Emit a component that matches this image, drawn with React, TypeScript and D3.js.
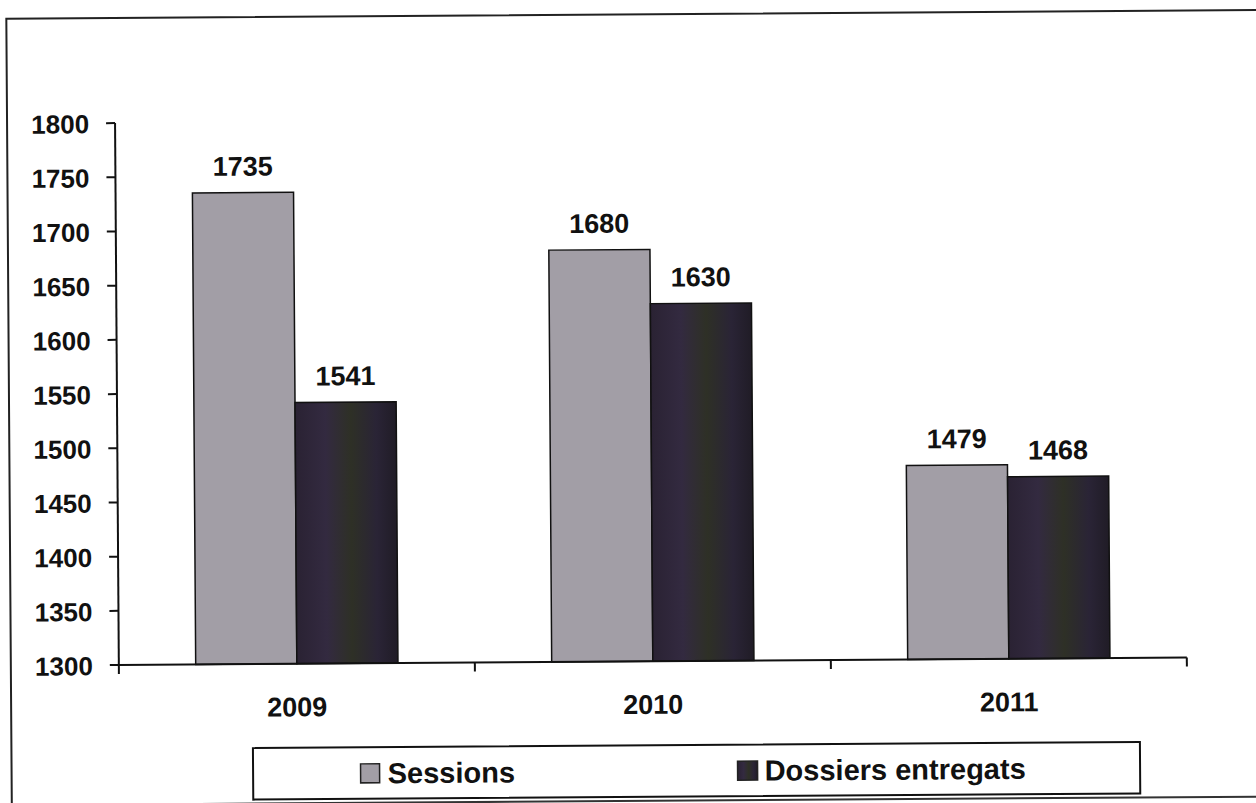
import React from "react";
import * as d3 from "d3";

const years = ["2009", "2010", "2011"];
const seriesNames = ["Sessions", "Dossiers entregats"];
const sessions = [1735, 1680, 1479];
const dossiers = [1541, 1630, 1468];
const yTicks = [1300, 1350, 1400, 1450, 1500, 1550, 1600, 1650, 1700, 1750, 1800];
const seriesColors = ["#a29ea6", "url(#darkGrad)"];

const W = 1256;
const H = 803;
const FONT = "Liberation Sans, Arial, sans-serif";

export default function App() {
  const plotLeft = 117;
  const plotRight = 1185;
  const plotTop = 119.5;
  const plotBottom = 661.5;

  const y = d3.scaleLinear().domain([1300, 1800]).range([plotBottom, plotTop]);
  const x = d3.scaleBand<string>().domain(years).range([plotLeft, plotRight]).padding(0);
  const xs = d3
    .scaleBand<string>()
    .domain(seriesNames)
    .range([0, x.bandwidth()])
    .paddingInner(0)
    .paddingOuter(0.76);

  const data = [sessions, dossiers];
  const catBounds = [plotLeft, ...years.map((yr) => (x(yr) as number) + x.bandwidth())];

  return (
    <svg
      width={W}
      height={H}
      style={{ position: "absolute", left: 0, top: 0, background: "#fff" }}
      fontFamily={FONT}
    >
      <defs>
        <linearGradient id="darkGrad" x1="0" x2="1" y1="0" y2="0">
          <stop offset="0" stopColor="#2a2233" />
          <stop offset="0.3" stopColor="#332a40" />
          <stop offset="0.55" stopColor="#2e3026" />
          <stop offset="0.8" stopColor="#2a2436" />
          <stop offset="1" stopColor="#201c26" />
        </linearGradient>
      </defs>
      <g transform="rotate(-0.4, 628, 400)">
        {/* outer frame */}
        <path d="M9,812 L9,14.5 L1270,14.5" fill="none" stroke="#222" strokeWidth={2} />
        <line x1={0} x2={1270} y1={801} y2={801} stroke="#333" strokeWidth={2} />

        {/* bars */}
        {years.map((yr, i) =>
          seriesNames.map((s, j) => {
            const v = data[j][i];
            const bx = (x(yr) as number) + (xs(s) as number);
            const by = y(v);
            return (
              <g key={yr + s}>
                <rect
                  x={bx}
                  y={by}
                  width={xs.bandwidth()}
                  height={plotBottom - by}
                  fill={seriesColors[j]}
                  stroke="#111"
                  strokeWidth={1.5}
                />
                <text
                  x={bx + xs.bandwidth() / 2}
                  y={by - 17}
                  textAnchor="middle"
                  fontSize={27}
                  fontWeight="bold"
                  fill="#111"
                >
                  {v}
                </text>
              </g>
            );
          })
        )}

        {/* y axis */}
        <line x1={plotLeft} x2={plotLeft} y1={plotTop} y2={plotBottom} stroke="#111" strokeWidth={2} />
        {yTicks.map((t) => (
          <g key={t}>
            <line x1={plotLeft - 9} x2={plotLeft} y1={y(t)} y2={y(t)} stroke="#111" strokeWidth={2} />
            <text
              x={plotLeft - 26}
              y={y(t) + 10}
              textAnchor="end"
              fontSize={26}
              fontWeight="bold"
              fill="#111"
            >
              {t}
            </text>
          </g>
        ))}

        {/* x axis */}
        <line x1={plotLeft} x2={plotRight} y1={plotBottom} y2={plotBottom} stroke="#111" strokeWidth={2} />
        {catBounds.map((bx, i) => (
          <line key={i} x1={bx} x2={bx} y1={plotBottom} y2={plotBottom + 9} stroke="#111" strokeWidth={2} />
        ))}
        {years.map((yr) => (
          <text
            key={yr}
            x={(x(yr) as number) + x.bandwidth() / 2}
            y={714}
            textAnchor="middle"
            fontSize={27}
            fontWeight="bold"
            fill="#111"
          >
            {yr}
          </text>
        ))}

        {/* legend */}
        <rect x={250.5} y={745.5} width={887} height={51.5} fill="#fff" stroke="#111" strokeWidth={2} />
        <rect x={358} y={762} width={19} height={19} fill={seriesColors[0]} stroke="#222" strokeWidth={1.5} />
        <text x={385} y={781.5} fontSize={29} fontWeight="bold" fill="#111">
          {seriesNames[0]}
        </text>
        <rect x={735} y={762} width={20} height={19} fill={seriesColors[1]} stroke="#222" strokeWidth={1.5} />
        <text x={762} y={781.5} fontSize={29} fontWeight="bold" fill="#111">
          {seriesNames[1]}
        </text>
      </g>
    </svg>
  );
}
